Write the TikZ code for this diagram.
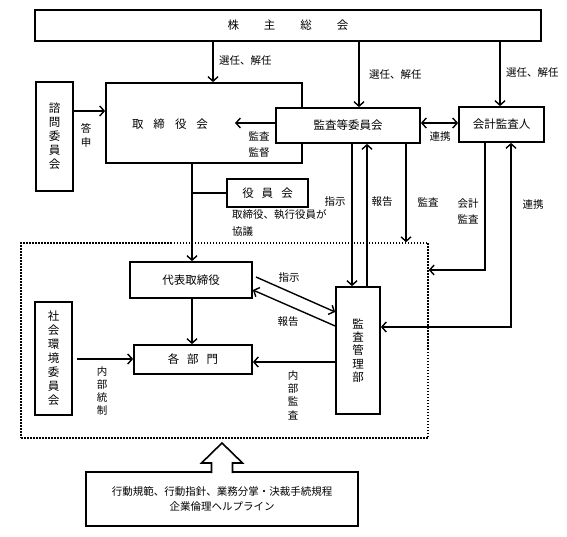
\documentclass[tikz,border=0pt]{standalone}
\usepackage{fontspec}
\setmainfont{Noto Sans CJK JP}
\usetikzlibrary{arrows.meta}
\begin{document}
\begin{tikzpicture}[x=1pt,y=-1pt,
  box/.style={draw, line width=1.7pt, fill=white, inner sep=0pt, font=\fontsize{11.5}{14}\selectfont},
  arr/.style={line width=1.4pt, -{Straight Barb[length=4.5pt,width=10pt]}},
  arrboth/.style={line width=1.4pt, {Straight Barb[length=4.5pt,width=10pt]}-{Straight Barb[length=4.5pt,width=10pt]}},
  plain/.style={line width=1.4pt},
  lbl/.style={font=\fontsize{10.5}{14}\selectfont, inner sep=0pt},
]
\useasboundingbox (0,0) rectangle (567,537);

% dotted area
\node[draw, line width=1.5pt, dash pattern=on 1.5pt off 1.5pt, minimum width=407pt, minimum height=195pt, inner sep=0pt] (area) at (224.5,340.5) {};

% boxes
\node[box, minimum width=506pt, minimum height=31pt] (sh) at (288,25.5) {株\hspace{25pt}主\hspace{25pt}総\hspace{25pt}会};
\node[box, minimum width=196pt, minimum height=80pt] (tori) at (204,123) {};
\node[font=\fontsize{11.5}{14}\selectfont, inner sep=0pt] (toritxt) at (170,124) {取\hspace{10pt}締\hspace{10pt}役\hspace{10pt}会};
\node[box, minimum width=37pt, minimum height=109pt, align=center] (shimon) at (54.5,136.5) {諮\\問\\委\\員\\会};
\node[box, minimum width=144pt, minimum height=35pt] (kansa) at (348,125.5) {監査等委員会};
\node[box, minimum width=85pt, minimum height=35pt] (kaikei) at (501.5,124.5) {会計監査人};
\node[box, minimum width=81pt, minimum height=28pt] (yakuin) at (267.5,193) {役\hspace{8pt}員\hspace{8pt}会};
\node[box, minimum width=122pt, minimum height=36pt] (daihyo) at (191,280) {代表取締役};
\node[box, minimum width=118pt, minimum height=29pt] (kakubu) at (193,359.5) {各\hspace{8pt}部\hspace{8pt}門};
\node[box, minimum width=44pt, minimum height=127pt, align=center, font=\fontsize{11.5}{13.4}\selectfont] (kanri) at (358,350.5) {監\\査\\管\\理\\部};
\node[box, minimum width=37pt, minimum height=113pt, align=center] (shakai) at (53.5,358.5) {社\\会\\環\\境\\委\\員\\会};
\node[box, minimum width=272pt, minimum height=54pt, align=center, font=\fontsize{10.5}{15.5}\selectfont] (kihan) at (222,499) {行動規範、行動指針、業務分掌・決裁手続規程\\企業倫理ヘルプライン};

% helper coordinates
\coordinate (xa) at (213,0);
\coordinate (xb) at (359,0);
\coordinate (xc) at (500,0);
\coordinate (xd) at (192,0);
\coordinate (xe) at (352,0);
\coordinate (xf) at (367,0);
\coordinate (xg) at (406,0);
\coordinate (xh) at (485,0);
\coordinate (xi) at (511,0);
\coordinate (ya) at (0,111);
\coordinate (yk) at (0,123);
\coordinate (yh) at (0,270);
\coordinate (yi) at (0,327);
\coordinate (yj) at (0,359);
\coordinate (yl) at (0,362);
\coordinate (ktip) at (235,123);
\coordinate (d1) at (256,277);
\coordinate (k1) at (0,312);
\coordinate (k2) at (0,326);
\coordinate (d2) at (0,290);

% connectors
\draw[arr] (sh.south -| xa) -- (tori.north -| xa);
\draw[arr] (sh.south -| xb) -- (kansa.north -| xb);
\draw[arr] (sh.south -| xc) -- (kaikei.north -| xc);
\draw[arr] (shimon.east |- ya) -- (tori.west |- ya);
\draw[arr] (kansa.west |- yk) -- (ktip);
\draw[arrboth] (kansa.east |- yk) -- (kaikei.west |- yk);
\draw[arr] (tori.south -| xd) -- (daihyo.north -| xd);
\draw[plain] (yakuin.west) -- (yakuin.west -| xd);
\draw[arr] (kansa.south -| xe) -- (kanri.north -| xe);
\draw[arr] (kanri.north -| xf) -- (kansa.south -| xf);
\draw[arr] (kansa.south -| xg) -- (area.north -| xg);
\draw[arr] (kaikei.south -| xh) |- (area.east |- yh);
\draw[arrboth] (kaikei.south -| xi) |- (kanri.east |- yi);
\draw[arr] (daihyo.south -| xd) -- (kakubu.north -| xd);
\draw[arr] (d1) -- (kanri.west |- k1);
\draw[arr] (kanri.west |- k2) -- (daihyo.east |- d2);
\draw[arr] ([xshift=4.5pt]shakai.east |- yj) -- (kakubu.west |- yj);
\draw[arr] (kanri.west |- yl) -- (kakubu.east |- yl);

% big hollow arrow
\draw[line width=1.6pt, fill=white, line join=miter] (211.5,473.2) -- (211.5,463) -- (201.5,463) -- (222,443) -- (242.5,463) -- (232.5,463) -- (232.5,473.2);

% labels
\node[lbl, anchor=west] (l1) at (219,61) {選任、解任};
\node[lbl, anchor=west] (l2) at (369,75) {選任、解任};
\node[lbl, anchor=west] (l3) at (506,73) {選任、解任};
\node[lbl, align=center] (l4) at (86,135) {答\\申};
\node[lbl, align=center, font=\fontsize{10.5}{16}\selectfont] (l5) at (259,145) {監査\\監督};
\node[lbl] (l6) at (440,137) {連携};
\node[lbl, align=left, anchor=west, font=\fontsize{10.5}{17}\selectfont] (l7) at (232,223.5) {取締役、執行役員が\\協議};
\node[lbl] (l8) at (335,202) {指示};
\node[lbl] (l9) at (382,202) {報告};
\node[lbl] (l10) at (428,202) {監査};
\node[lbl, align=center, font=\fontsize{10.5}{16}\selectfont] (l11) at (468,211) {会計\\監査};
\node[lbl] (l12) at (533,205) {連携};
\node[lbl] (l13) at (289,278) {指示};
\node[lbl] (l14) at (288,322) {報告};
\node[lbl, align=center, font=\fontsize{10.5}{13}\selectfont] (l15) at (102,391.5) {内\\部\\統\\制};
\node[lbl, align=center, font=\fontsize{10.5}{13.3}\selectfont] (l16) at (293,395) {内\\部\\監\\査};
\end{tikzpicture}
\end{document}
